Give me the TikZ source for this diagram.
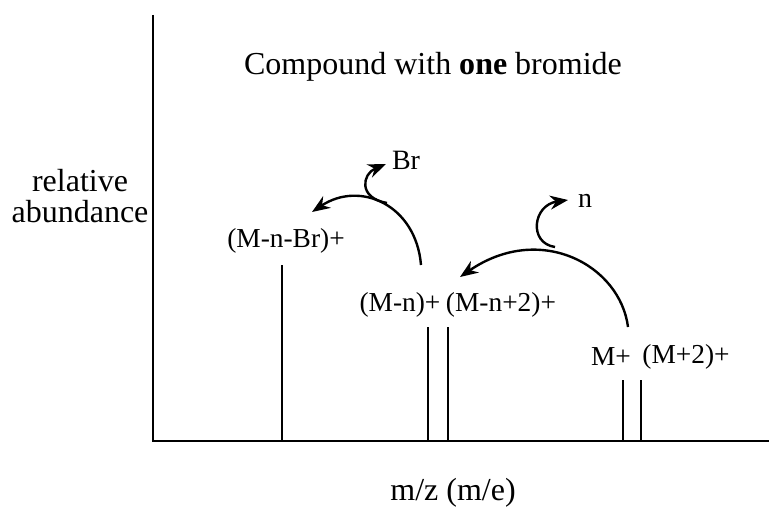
\documentclass[tikz,border=0pt]{standalone}
\usepackage{fontspec}
\setmainfont{Liberation Serif}
\usepackage{tikz}
\usetikzlibrary{arrows.meta}

\begin{document}
\begin{tikzpicture}[x=0.5pt, y=-0.5pt,
    axis/.style={line width=1pt},
    peak/.style={line width=1pt},
    lbl/.style={inner sep=0pt, font=\fontsize{13.7}{15}\selectfont},
    biglbl/.style={inner sep=0pt, font=\fontsize{16}{15.5}\selectfont},
    lost/.style={inner sep=0pt, font=\fontsize{14}{15}\selectfont},
    arrow/.style={line width=1.2pt, -{Stealth[length=9pt, width=7pt]}}]

    \useasboundingbox (0,0) rectangle (769,518);

    % axes
    \coordinate (origin) at (153,441);
    \coordinate (ytop) at (153,15);
    \coordinate (xend) at (769,441);
    \draw[axis] (ytop) -- (origin) -- (xend);

    % peaks
    \draw[peak] (282,441) -- (282,265);
    \draw[peak] (428,441) -- (428,327);
    \draw[peak] (448,441) -- (448,327);
    \draw[peak] (623,441) -- (623,380);
    \draw[peak] (641,441) -- (641,380);

    % labels
    \node (title) [biglbl] at (433,67) {Compound with \textbf{one} bromide};
    \node (ylabel) [biglbl, align=center] at (80,196) {relative\\abundance};
    \node (xlabel) [biglbl] at (453,493) {m/z (m/e)};
    \node (mnbr) [lbl] at (286,241) {(M-n-Br)+};
    \node (mn) [lbl] at (400,305) {(M-n)+};
    \node (mn2) [lbl] at (501,305) {(M-n+2)+};
    \node (m) [lbl] at (611,357) {M+};
    \node (m2) [lbl] at (686,357) {(M+2)+};
    \node (br) [lost] at (406,160) {Br};
    \node (n) [lost] at (585,201) {n};

    % arrow ends
    \coordinate (a1s) at (421,265);
    \coordinate (a1e) at (312,212);
    \coordinate (h1s) at (387,203);
    \coordinate (h1e) at (386,164);
    \coordinate (a2s) at (628,327);
    \coordinate (a2e) at (460,277);
    \coordinate (h2s) at (555,247);
    \coordinate (h2e) at (568,200);

    \draw [arrow] (a1s) .. controls (416,205) and (360,180) .. (a1e);
    \draw [arrow] (h1s) .. controls (358,198) and (362,174) .. (h1e);
    \draw [arrow] (a2s) .. controls (620,265) and (540,222) .. (a2e);
    \draw [arrow] (h2s) .. controls (528,243) and (533,205) .. (h2e);
\end{tikzpicture}
\end{document}
